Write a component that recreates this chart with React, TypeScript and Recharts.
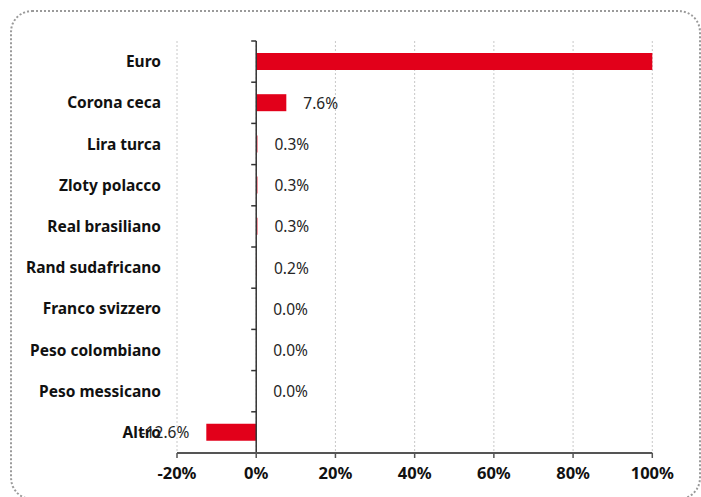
import React from 'react';
import { ComposedChart, Bar, Line, XAxis, YAxis, CartesianGrid, ReferenceLine, LabelList } from 'recharts';

const categories = ['Euro', 'Corona ceca', 'Lira turca', 'Zloty polacco', 'Real brasiliano', 'Rand sudafricano', 'Franco svizzero', 'Peso colombiano', 'Peso messicano', 'Altro'];
const values = [100.5, 7.6, 0.3, 0.3, 0.3, 0.2, 0.0, 0.0, 0.0, -12.6];
const valueLabels = ['', '7.6%', '0.3%', '0.3%', '0.3%', '0.2%', '0.0%', '0.0%', '0.0%', '-12.6%'];
const xTicks = [-20, 0, 20, 40, 60, 80, 100];

const data = categories.map((name, i) => ({ name, value: values[i], text: valueLabels[i] }));

const FONT = '"Noto Sans", sans-serif';

const renderLabel = (props: any) => {
  const { x, y, value } = props;
  if (!value) return null;
  const neg = String(value).startsWith('-');
  return (
    <text
      x={neg ? x - 17 : x + 17}
      y={y}
      textAnchor={neg ? 'end' : 'start'}
      dominantBaseline="central"
      fontFamily={FONT}
      fontSize={15.5}
      fill="#262626"
    >
      {value}
    </text>
  );
};

const ZeroAxis = (props: any) => {
  const { x1, y1, x2, y2 } = props;
  const top = Math.min(y1, y2);
  const bottom = Math.max(y1, y2);
  const n = categories.length;
  const step = (bottom - top) / n;
  const marks = [];
  for (let i = 0; i <= n; i++) {
    const yy = top + step * i;
    marks.push(<line key={i} x1={x1 - 5} x2={x1} y1={yy} y2={yy} stroke="#333" strokeWidth={1.5} />);
  }
  return (
    <g>
      <line x1={x1} x2={x2} y1={y1} y2={y2} stroke="#333" strokeWidth={1.5} />
      {marks}
    </g>
  );
};

export default function App() {
  return (
    <div style={{ position: 'absolute', left: 0, top: 0, width: 701, height: 497, overflow: 'hidden', background: '#fff' }}>
      <div
        style={{
          position: 'absolute',
          left: 10,
          top: 10,
          width: 691,
          height: 490,
          border: '2px dotted #9a9a9a',
          borderRadius: 22,
          boxSizing: 'border-box',
        }}
      />
      <div style={{ position: 'absolute', left: 0, top: 0 }}>
        <ComposedChart
          width={701}
          height={497}
          data={data}
          layout="vertical"
          margin={{ top: 41, right: 48.7, bottom: 0, left: 0 }}
          barSize={17}
        >
          <CartesianGrid horizontal={false} vertical={true} stroke="#c8c8c8" strokeDasharray="2 2" />
          <XAxis
            type="number"
            domain={[-20, 100]}
            ticks={xTicks}
            allowDataOverflow
            height={44}
            tickFormatter={(v: number) => `${v}%`}
            axisLine={{ stroke: '#555', strokeWidth: 2 }}
            tickLine={{ stroke: '#555', strokeWidth: 1.5 }}
            tickSize={5}
            tickMargin={9}
            tick={{ fontFamily: FONT, fontSize: 16.5, fontWeight: 700, fill: '#111' }}
          />
          <YAxis
            type="category"
            dataKey="name"
            width={177}
            axisLine={false}
            tickLine={false}
            tickSize={0}
            tickMargin={16}
            interval={0}
            tick={{ fontFamily: FONT, fontSize: 15.5, fontWeight: 700, fill: '#111' }}
          />
          <ReferenceLine x={0} shape={ZeroAxis} ifOverflow="visible" />
          <Bar dataKey="value" fill="#E2001A" isAnimationActive={false} />
          <Line
            dataKey="value"
            stroke="none"
            dot={false}
            activeDot={false}
            isAnimationActive={false}
            legendType="none"
          >
            <LabelList dataKey="text" content={renderLabel} />
          </Line>
        </ComposedChart>
      </div>
    </div>
  );
}
